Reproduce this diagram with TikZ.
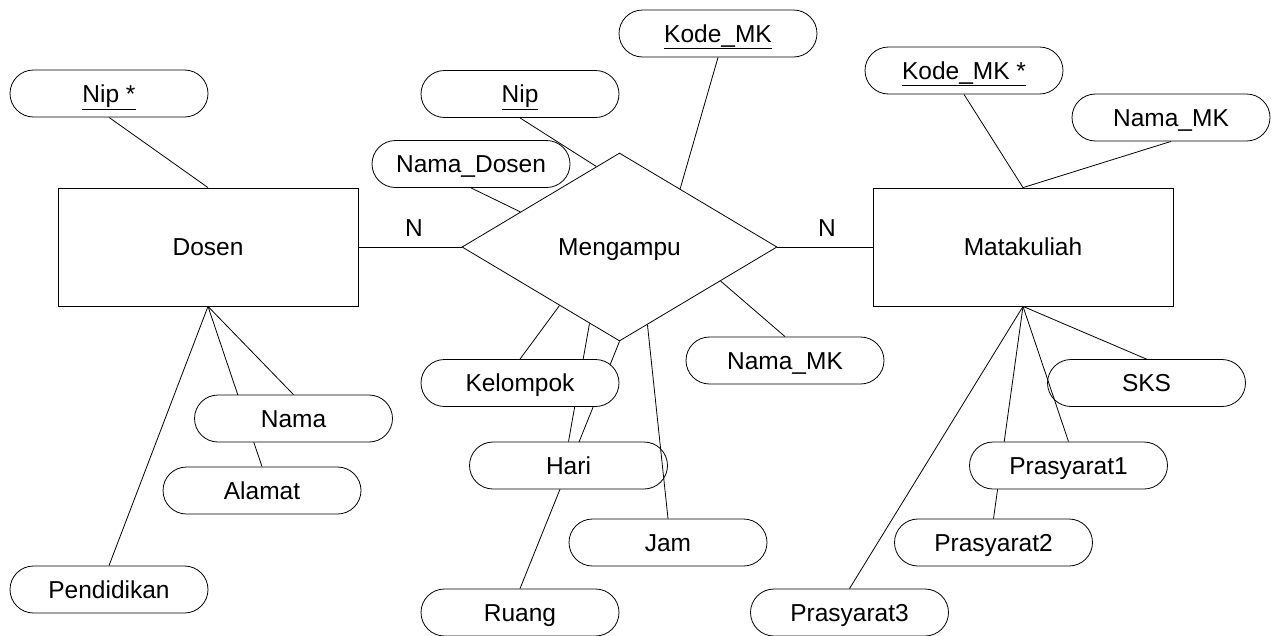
\documentclass[tikz,border=0pt]{standalone}
\usepackage{fontspec}
\setmainfont{Liberation Sans}
\usetikzlibrary{shapes.geometric,backgrounds,calc}
\begin{document}
\begin{tikzpicture}[x=1pt,y=-1pt,line width=0.8pt,
  txt/.style={font=\fontsize{24.5}{29}\selectfont,text height=17.5pt,text depth=0pt},
  attr/.style={txt,draw,fill=white,rounded corners=23.5pt,minimum width=198pt,minimum height=47pt,inner sep=0pt},
  ent/.style={txt,draw,fill=white,minimum width=300pt,minimum height=118pt,inner sep=0pt},
  rel/.style={txt,draw,fill=white,diamond,aspect=1.675,minimum width=315pt,minimum height=188pt,inner sep=0pt},
  conn/.style={line width=0.8pt}]
\useasboundingbox (0,0) rectangle (1273,635);
% entities and relationship
\node[ent] (dosen) at (208,247) {Dosen};
\node[ent] (mk) at (1023,247) {Matakuliah};
\node[rel] (m) at (619.5,247) {Mengampu};
% attributes
\node[attr] (nipd) at (109,93.5) {\underline{Nip *}};
\node[attr] (kode) at (718,33.5) {\underline{Kode\_MK}};
\node[attr] (nip) at (520,94) {\underline{Nip}};
\node[attr] (namad) at (471,164) {Nama\_Dosen};
\node[attr] (kodemk) at (964,70.5) {\underline{Kode\_MK *}};
\node[attr] (namamk) at (1171,117.5) {Nama\_MK};
\node[attr] (namamk2) at (785,360.5) {Nama\_MK};
\node[attr] (kel) at (520,383) {Kelompok};
\node[attr] (hari) at (568.5,465.5) {Hari};
\node[attr] (jam) at (668,542.5) {Jam};
\node[attr] (ruang) at (520,612.5) {Ruang};
\node[attr] (nama) at (293.5,418.5) {Nama};
\node[attr] (alamat) at (262,490.5) {Alamat};
\node[attr] (pend) at (109,589.5) {Pendidikan};
\node[attr] (sks) at (1146.5,383) {SKS};
\node[attr] (p1) at (1068.5,465.5) {Prasyarat1};
\node[attr] (p2) at (993.5,542.5) {Prasyarat2};
\node[attr] (p3) at (849.5,612.5) {Prasyarat3};
% cardinalities
\node[txt] (n1) at (414,228) {N};
\node[txt] (n2) at (827,228) {N};
% connectors hidden behind attributes
\begin{scope}[on background layer]
\draw[conn] (dosen.east) -- (m.west);
\draw[conn] (m.east) -- (mk.west);
\draw[conn] (nipd.south) -- (dosen.north);
\draw[conn] (dosen.south) -- (nama.north);
\draw[conn] (dosen.south) -- (alamat.north);
\draw[conn] (dosen.south) -- (pend.north);
\draw[conn] (nip.south) -- ($(m.west)!0.853!(m.north)$);
\draw[conn] (namad.south) -- ($(m.west)!0.372!(m.north)$);
\draw[conn] (kode.south) -- ($(m.north)!0.384!(m.east)$);
\draw[conn] (namamk2.north) -- ($(m.east)!0.36!(m.south)$);
\draw[conn] (ruang.north) -- (m.south);
\draw[conn] (hari.north) -- ($(m.west)!0.81!(m.south)$);
\draw[conn] (kel.north) -- ($(m.west)!0.62!(m.south)$);
\draw[conn] (mk.north) -- (kodemk.south);
\draw[conn] (mk.north) -- (namamk.south);
\draw[conn] (mk.south) -- (sks.north);
\draw[conn] (mk.south) -- (p2.north);
\draw[conn] (mk.south) -- (p3.north);
\end{scope}
% connectors drawn over attributes
\draw[conn] (jam.north) -- ($(m.east)!0.823!(m.south)$);
\draw[conn] (mk.south) -- (p1.north);
\end{tikzpicture}
\end{document}
